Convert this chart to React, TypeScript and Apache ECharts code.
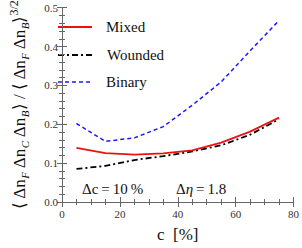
import React, { useEffect, useRef } from "react";
import * as echarts from "echarts";

const cValues = [5, 15, 25, 35, 45, 55, 65, 75];
const mixed = [0.139, 0.126, 0.122, 0.125, 0.133, 0.153, 0.181, 0.217];
const wounded = [0.085, 0.093, 0.108, 0.118, 0.130, 0.146, 0.173, 0.213];
const binary = [0.202, 0.156, 0.165, 0.194, 0.249, 0.309, 0.389, 0.467];
const legendNames = ["Mixed", "Wounded", "Binary"];

const SERIF = "Liberation Serif";

function pairs(xs: number[], ys: number[]) {
  return xs.map((x, i) => [x, ys[i]]);
}

export default function App() {
  const ref = useRef<HTMLDivElement>(null);
  useEffect(() => {
    if (!ref.current) return;
    const chart = echarts.init(ref.current, undefined, { renderer: "svg" });
    const axisColor = "#666";
    const axisLine = { show: true, lineStyle: { color: axisColor, width: 1 } };
    const axisTick = { show: true, inside: true, length: 5, lineStyle: { color: axisColor } };
    const labelStyle = { fontFamily: SERIF, fontSize: 11, color: "#333" };
    const txt = (text: string, x: number, y: number, size = 15) => ({
      type: "text",
      x,
      y,
      style: { text, fontFamily: SERIF, fontSize: size, fill: "#111", verticalAlign: "middle" },
    });
    chart.setOption({
      animation: false,
      textStyle: { fontFamily: SERIF },
      grid: { left: 43.5, right: 7, top: 5.5, bottom: 40.5, containLabel: false },
      xAxis: [
        {
          type: "value",
          min: 0,
          max: 80,
          interval: 20,
          minorTick: { show: true, splitNumber: 4, length: 3, lineStyle: { color: axisColor } },
          axisLine,
          axisTick,
          splitLine: { show: false },
          axisLabel: { ...labelStyle, margin: 6 },
          name: "c  [%]",
          nameLocation: "middle",
          nameGap: 24,
          nameTextStyle: { fontFamily: SERIF, fontSize: 17, color: "#111" },
        },
        {
          type: "value",
          position: "top",
          min: 0,
          max: 80,
          interval: 20,
          minorTick: { show: true, splitNumber: 4, length: 3, lineStyle: { color: axisColor } },
          axisLine,
          axisTick,
          splitLine: { show: false },
          axisLabel: { show: false },
        },
      ],
      yAxis: [
        {
          type: "value",
          min: 0,
          max: 0.5,
          interval: 0.1,
          minorTick: { show: true, splitNumber: 5, length: 3, lineStyle: { color: axisColor } },
          axisLine,
          axisTick,
          splitLine: { show: false },
          axisLabel: { ...labelStyle, margin: 4, formatter: (v: number) => v.toFixed(1) },
          name:
            "{m|⟨ Δn}{s|F}{m| Δn}{s|C}{m| Δn}{s|B}{m|⟩ / ⟨ Δn}{s|F}{m| Δn}{s|B}{m|⟩}{p|3/2}",
          nameLocation: "middle",
          nameRotate: 90,
          nameGap: 32,
          nameTextStyle: {
            rich: {
              m: { fontFamily: SERIF, fontSize: 17, color: "#111", lineHeight: 22, verticalAlign: "middle" },
              s: { fontFamily: SERIF, fontSize: 11, fontStyle: "italic", color: "#111", lineHeight: 12, verticalAlign: "bottom" },
              p: { fontFamily: SERIF, fontSize: 12, color: "#111", lineHeight: 12, verticalAlign: "top" },
            },
          },
        },
        {
          type: "value",
          position: "right",
          min: 0,
          max: 0.5,
          interval: 0.1,
          minorTick: { show: true, splitNumber: 5, length: 3, lineStyle: { color: axisColor } },
          axisLine,
          axisTick,
          splitLine: { show: false },
          axisLabel: { show: false },
        },
      ],
      series: [
        {
          name: legendNames[0],
          type: "line",
          data: pairs(cValues, mixed),
          showSymbol: false,
          symbol: "none",
          lineStyle: { color: "#ee1111", width: 1.8, type: "solid" },
          z: 3,
        },
        {
          name: legendNames[1],
          type: "line",
          data: pairs(cValues, wounded),
          showSymbol: false,
          symbol: "none",
          lineStyle: { color: "#000", width: 1.8, type: [6, 3, 2, 3] },
          z: 2,
        },
        {
          name: legendNames[2],
          type: "line",
          data: pairs(cValues, binary),
          showSymbol: false,
          symbol: "none",
          lineStyle: { color: "#1a1aff", width: 1.5, type: [4, 3] },
          z: 1,
        },
      ],
      graphic: [
        { type: "line", shape: { x1: 58, y1: 27, x2: 92, y2: 27 }, style: { stroke: "#ee1111", lineWidth: 2 } },
        { type: "line", shape: { x1: 58, y1: 55, x2: 92, y2: 55 }, style: { stroke: "#000", lineWidth: 2, lineDash: [6, 3, 2, 3] } },
        { type: "line", shape: { x1: 58, y1: 82, x2: 92, y2: 82 }, style: { stroke: "#1a1aff", lineWidth: 1.6, lineDash: [4, 3] } },
        txt(legendNames[0], 106, 27),
        txt(legendNames[1], 107, 55),
        txt(legendNames[2], 106, 82),
        txt("Δc\u2009=\u200910\u2009%", 82, 189),
        {
          type: "text",
          x: 176,
          y: 189,
          style: {
            text: "{a|Δ}{i|η}{a|\u2009=\u20091.8}",
            verticalAlign: "middle",
            rich: {
              a: { fontFamily: SERIF, fontSize: 15, fill: "#111" },
              i: { fontFamily: SERIF, fontSize: 15, fontStyle: "italic", fill: "#111" },
            },
          },
        },
      ],
    });
    return () => chart.dispose();
  }, []);
  return <div ref={ref} style={{ width: 302, height: 248, position: "absolute", left: 0, top: 0 }} />;
}
